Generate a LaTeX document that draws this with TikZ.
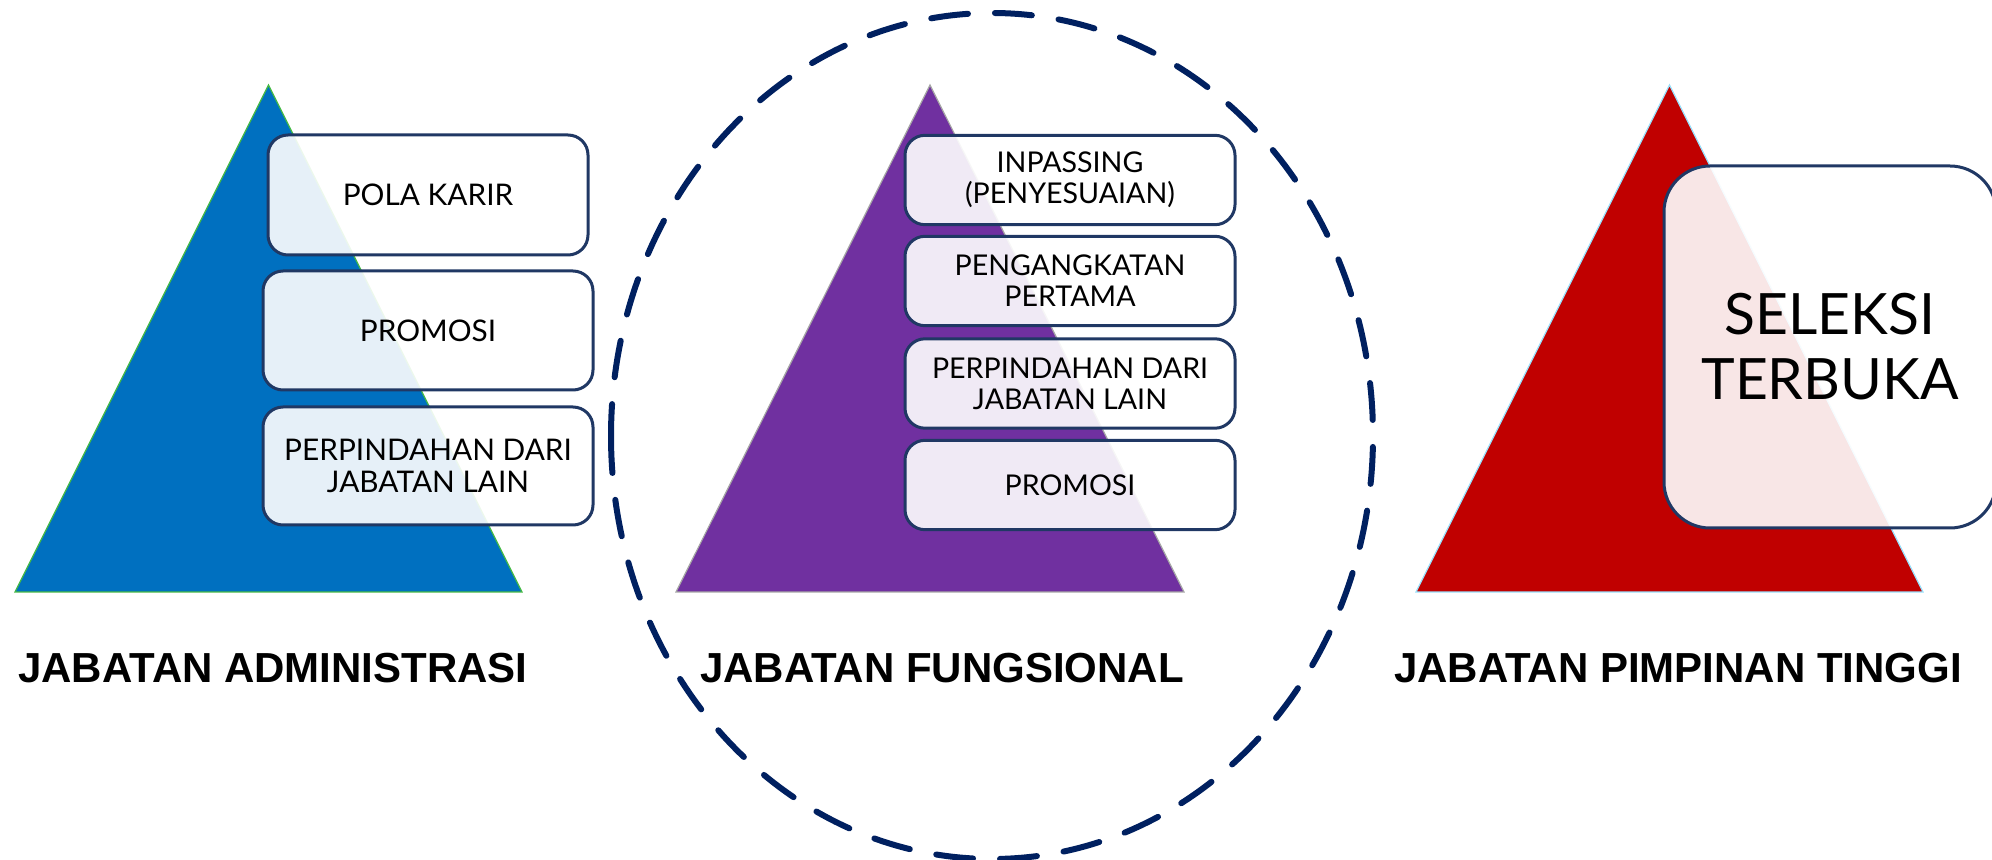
\documentclass[tikz,border=0pt]{standalone}
\usepackage{fontspec}
\setmainfont{Liberation Sans}
\newfontfamily\boxfont{Lato}
\definecolor{admblue}{HTML}{0070C0}
\definecolor{fngpurple}{HTML}{7030A0}
\definecolor{jptred}{HTML}{C00000}
\definecolor{ringnavy}{HTML}{002060}
\definecolor{boxline}{HTML}{203864}
\begin{document}
\begin{tikzpicture}[x=0.5pt,y=-0.5pt,
  pyramid/.style={line width=0.6pt},
  stepbox/.style={draw=boxline, line width=1.5pt, fill=white, fill opacity=0.9,
    text opacity=1, rounded corners=10pt, align=center, inner sep=0pt},
  leftbox/.style={stepbox, minimum width=165pt, font=\boxfont\fontsize{14.9}{16.2}\selectfont},
  midbox/.style={stepbox, minimum width=165pt, minimum height=44.7pt,
    font=\boxfont\fontsize{14.3}{15.5}\selectfont},
  caption/.style={font=\bfseries\fontsize{21}{24}\selectfont, anchor=center, inner sep=0pt}]
\useasboundingbox (0,0) rectangle (1992,860);

% dashed ring round the functional group, started on its left side
\coordinate (ringstart) at (611,436);
\draw[ringnavy, line width=3pt, line cap=round, dash pattern=on 18.5pt off 13.5pt]
  (ringstart) arc[start angle=180, end angle=-180, x radius=381, y radius=423];

% three pyramids
\draw[pyramid, draw=green!45!gray, fill=admblue] (15,592) -- (268.5,85) -- (522,592) -- cycle;
\draw[pyramid, draw=gray!70, fill=fngpurple] (676,592) -- (930,85) -- (1184,592) -- cycle;
\draw[pyramid, draw=cyan!40!white, fill=jptred] (1416,592) -- (1669.5,85) -- (1923,592) -- cycle;

% administrative path
\node[leftbox, minimum width=160pt, minimum height=60pt] (a1) at (428,195) {POLA KARIR};
\node[leftbox, minimum height=59.5pt] (a2) at (428,330.5) {PROMOSI};
\node[leftbox, minimum height=59pt] (a3) at (428,466) {PERPINDAHAN DARI\\JABATAN LAIN};

% functional path
\node[midbox] (f1) at (1070,180) {INPASSING\\(PENYESUAIAN)};
\node[midbox] (f2) at (1070,281) {PENGANGKATAN\\PERTAMA};
\node[midbox] (f3) at (1070,383.5) {PERPINDAHAN DARI\\JABATAN LAIN};
\node[midbox] (f4) at (1070,485) {PROMOSI};

% high leadership path
\node[stepbox, rounded corners=23pt, minimum width=166pt, minimum height=181pt,
  font=\boxfont\fontsize{28.5}{32.5}\selectfont] (t1) at (1830,347) {SELEKSI\\TERBUKA};

% captions
\node[caption] (ca) at (273,668) {JABATAN ADMINISTRASI};
\node[caption] (cf) at (942,668) {JABATAN FUNGSIONAL};
\node[caption] (cp) at (1678,668) {JABATAN PIMPINAN TINGGI};
\end{tikzpicture}
\end{document}
